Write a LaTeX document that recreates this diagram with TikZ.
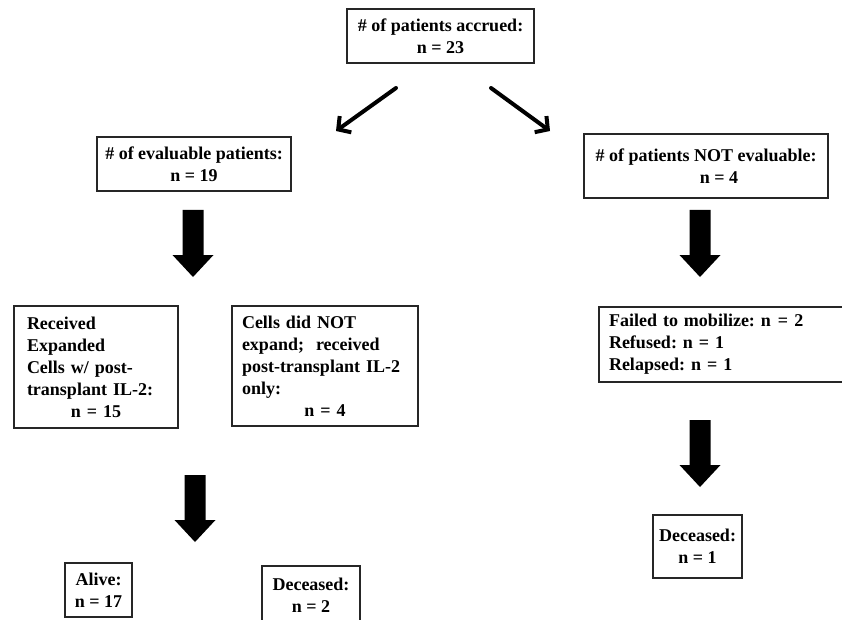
\documentclass[tikz,border=0pt]{standalone}
\usepackage{fontspec}
\setmainfont{Liberation Serif}
\usetikzlibrary{arrows.meta}
\frenchspacing
\begin{document}
\begin{tikzpicture}[x=1pt,y=-1pt,
  box/.style={draw=black!85, line width=1.2pt, inner sep=0pt,
    font=\fontsize{18}{22}\selectfont\bfseries\frenchspacing},
  thinarrow/.style={line width=4pt, line cap=round,
    -{Straight Barb[length=9pt,width=20pt,line width=4pt]}},
  blockarrow/.pic={\fill[black] (-10.5,0) -- (10.5,0) -- (10.5,45) -- (20.5,45)
     -- (0,67) -- (-20.5,45) -- (-10.5,45) -- cycle;}]
\useasboundingbox (0,0) rectangle (842,620);

\node[box, minimum width=187pt, minimum height=54pt, align=center] (top) at (440.5,36)
  {\# of patients accrued:\\ n = 23};
\node[box, minimum width=194pt, minimum height=54pt, align=center] (eval) at (194,164)
  {\# of evaluable patients:\\ n = 19};
\node[box, minimum width=244pt, minimum height=64pt, align=center] (noteval) at (706,166)
  {\# of patients NOT evaluable:\\ \hspace*{26pt}n = 4};

\node[box, minimum width=164pt, minimum height=122pt, text width=138pt, align=left] (recv) at (96,367)
  {Received\\ Expanded\\ Cells w/ post-\\ transplant IL-2:\\ \makebox[138pt]{n = 15}};
\node[box, minimum width=186pt, minimum height=120pt, text width=166pt, align=left] (cells) at (325,366)
  {Cells did\hspace{6pt}NOT\\ expand;\ \ received\\ post-transplant IL-2\\ only:\\ \makebox[166pt]{n = 4}};
\node[box, minimum width=261pt, minimum height=75pt, text width=241pt, align=left] (failed) at (729.5,344.5)
  {Failed to mobilize: n\hspace{7pt}= 2\\ Refused: n = 1\\ Relapsed: n = 1};

\node[box, minimum width=67pt, minimum height=54pt, align=center] (alive) at (98.5,590)
  {Alive:\\ n = 17};
\node[box, minimum width=98pt, minimum height=58pt, align=center] (dec2) at (311,595)
  {Deceased:\\ n = 2};
\node[box, minimum width=89pt, minimum height=63pt, align=center] (dec1) at (697.5,546.5)
  {Deceased:\\ n = 1};

\coordinate (la) at (396,88);
\coordinate (lb) at (336,131);
\coordinate (ra) at (491,88);
\coordinate (rb) at (550,131);
\draw[thinarrow] (la) -- (lb);
\draw[thinarrow] (ra) -- (rb);

\pic (b1) at (193,210) {blockarrow};
\pic (b2) at (700,210) {blockarrow};
\pic (b3) at (700,420) {blockarrow};
\pic (b4) at (195,475) {blockarrow};
\end{tikzpicture}
\end{document}
